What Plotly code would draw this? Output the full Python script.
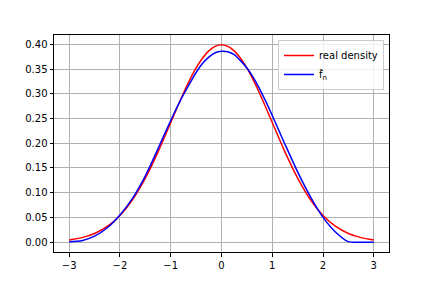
import plotly.graph_objects as go

x_vals = [-3.0, -2.75, -2.5, -2.25, -2.0, -1.75, -1.5, -1.25, -1.0, -0.875, -0.75, -0.625,
          -0.5, -0.375, -0.25, -0.125, 0.0, 0.125, 0.25, 0.375, 0.5, 0.625, 0.75, 0.875,
          1.0, 1.25, 1.5, 1.75, 2.0, 2.25, 2.5, 2.75, 3.0]
real_density = [0.0044, 0.0091, 0.0175, 0.0317, 0.0540, 0.0863, 0.1295, 0.1826, 0.2420,
                0.2717, 0.3011, 0.3281, 0.3521, 0.3719, 0.3867, 0.3958, 0.3989, 0.3958,
                0.3867, 0.3719, 0.3521, 0.3281, 0.3011, 0.2717, 0.2420, 0.1826, 0.1295,
                0.0863, 0.0540, 0.0317, 0.0175, 0.0091, 0.0044]
f_hat = [0.001, 0.003, 0.012, 0.029, 0.055, 0.089, 0.134, 0.189, 0.246,
         0.273, 0.298, 0.321, 0.343, 0.361, 0.374, 0.383, 0.386, 0.385,
         0.379, 0.367, 0.352, 0.333, 0.310, 0.284, 0.256, 0.198, 0.142,
         0.092, 0.050, 0.020, 0.001, 0.0, 0.0]
y_ticks = [0.0, 0.05, 0.10, 0.15, 0.20, 0.25, 0.30, 0.35, 0.40]
x_ticks = [-3, -2, -1, 0, 1, 2, 3]

fig = go.Figure()
fig.add_trace(go.Scatter(x=x_vals, y=real_density, mode="lines", name="real density",
                         line=dict(color="#ff0000", width=1.5, shape="spline", smoothing=0.8)))
fig.add_trace(go.Scatter(x=x_vals, y=f_hat, mode="lines", name="f\u0302<sub>n</sub>",
                         line=dict(color="#0000ff", width=1.5, shape="spline", smoothing=0.8)))

axis_common = dict(showline=True, linecolor="black", linewidth=1, mirror=True,
                   ticks="outside", ticklen=3.5, tickcolor="black", tickwidth=1,
                   showgrid=True, gridcolor="#b0b0b0", gridwidth=0.8, zeroline=False,
                   tickfont=dict(family="DejaVu Sans", size=10, color="black"))
fig.update_xaxes(range=[-3.3, 3.3], tickvals=x_ticks,
                 ticktext=[str(t).replace("-", "\u2212") for t in x_ticks], **axis_common)
fig.update_yaxes(range=[-0.01995, 0.4188], tickvals=y_ticks, tickformat=".2f", **axis_common)

fig.update_layout(
    width=424, height=280,
    margin=dict(l=46, r=43, t=27, b=36),
    paper_bgcolor="white", plot_bgcolor="white",
    font=dict(family="DejaVu Sans", size=10, color="black"),
    legend=dict(x=0.985, y=0.977, xanchor="right", yanchor="top", itemwidth=30,
                bgcolor="rgba(255,255,255,0.8)", bordercolor="#cccccc", borderwidth=1,
                font=dict(size=10)),
)
fig.write_html("out.html")
